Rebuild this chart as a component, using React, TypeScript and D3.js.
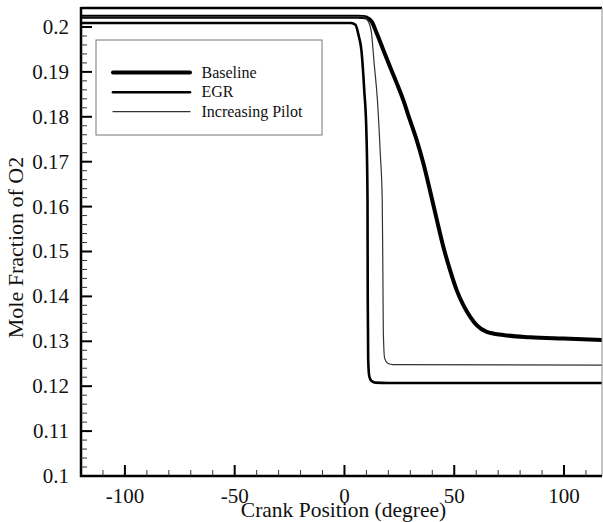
import React from "react";
import * as d3 from "d3";

type Pt = [number, number];

const baselineData: Pt[] = [
  [-120, 0.2023], [6, 0.2023], [8.5, 0.20225], [10.1, 0.2021], [12.4, 0.2012],
  [14.7, 0.1986], [17.7, 0.1949], [20.7, 0.1912], [23.8, 0.1875], [26.8, 0.1837],
  [29.8, 0.1793], [32.9, 0.1748], [35.9, 0.1697], [38.95, 0.1636], [42.0, 0.1572],
  [45.0, 0.1511], [48.06, 0.1459], [51.1, 0.1414], [54.1, 0.1381], [57.2, 0.1355],
  [60.2, 0.1336], [64.8, 0.1321], [72.3, 0.1314], [84.5, 0.1309], [99.7, 0.1306],
  [117.3, 0.1303],
];

const egrData: Pt[] = [
  [-120, 0.2009], [3, 0.2009], [5, 0.2005], [6.5, 0.198], [7.7, 0.1949], [9, 0.186],
  [10, 0.1764], [10.5, 0.1616], [10.6, 0.14], [10.8, 0.126], [11.3, 0.1222],
  [12.2, 0.1212], [14, 0.1208], [20, 0.1207], [117.3, 0.1207],
];

const pilotData: Pt[] = [
  [-120, 0.2023], [8, 0.2023], [10, 0.2018], [11.5, 0.2005], [12.3, 0.1987],
  [13.5, 0.192], [15, 0.1838], [16.3, 0.172], [17.2, 0.1616], [17.5, 0.145],
  [17.7, 0.132], [18.3, 0.1262], [19.7, 0.1251], [22, 0.1248], [117.3, 0.1247],
];

const xMajorTicks = [-100, -50, 0, 50, 100];
const xMinorTicks = d3.range(-110, 117, 10).filter((v) => !xMajorTicks.includes(v));
const yMajorTicks = d3.range(0, 11).map((i) => +(0.1 + i * 0.01).toFixed(2));
const yMinorTicks = d3
  .range(0, 51)
  .map((i) => +(0.1 + i * 0.002).toFixed(3))
  .filter((v) => !yMajorTicks.some((m) => Math.abs(m - v) < 1e-9));
const yTickLabels = ["0.1", "0.11", "0.12", "0.13", "0.14", "0.15", "0.16", "0.17", "0.18", "0.19", "0.2"];

const legendNames = ["Baseline", "EGR", "Increasing Pilot"];

const W = 603;
const H = 522;
const left = 81;
const right = 602;
const top = 8;
const bottom = 476;

const FONT = "'Liberation Serif', 'Times New Roman', Times, serif";

export default function App() {
  const x = d3.scaleLinear().domain([-120, 117.3]).range([left, right]);
  const y = d3.scaleLinear().domain([0.1, 0.20423]).range([bottom, top]);
  const line = d3
    .line<Pt>()
    .x((d) => x(d[0]))
    .y((d) => y(d[1]))
    .curve(d3.curveMonotoneX);

  const series = [
    { name: legendNames[0], data: baselineData, width: 4, color: "#000" },
    { name: legendNames[1], data: egrData, width: 2.6, color: "#000" },
    { name: legendNames[2], data: pilotData, width: 1.2, color: "#333" },
  ];

  const legendY = [72.5, 92.3, 111.7];
  const ts = { fontFamily: FONT };

  return (
    <svg
      width={W}
      height={H}
      style={{ position: "absolute", left: 0, top: 0, background: "#fff", fontFamily: FONT }}
    >
      <rect x={0} y={0} width={W} height={H} fill="#fff" />
      <defs>
        <clipPath id="plotClip">
          <rect x={left} y={top} width={right - left} height={bottom - top} />
        </clipPath>
      </defs>

      <g clipPath="url(#plotClip)">
        {series.map((s) => (
          <path
            key={s.name}
            d={line(s.data) || ""}
            fill="none"
            stroke={s.color}
            strokeWidth={s.width}
            strokeLinejoin="round"
            strokeLinecap="round"
          />
        ))}
      </g>

      <line x1={left} x2={right} y1={top} y2={top} stroke="#000" strokeWidth={2.5} />
      <line x1={right} x2={right} y1={top} y2={bottom} stroke="#888" strokeWidth={1} />
      <line x1={left} x2={left} y1={top - 1} y2={bottom + 1} stroke="#000" strokeWidth={2.5} />
      <line x1={left - 1} x2={right} y1={bottom} y2={bottom} stroke="#000" strokeWidth={2.5} />

      {xMajorTicks.map((t) => (
        <line key={"xM" + t} x1={x(t)} x2={x(t)} y1={bottom} y2={bottom - 11} stroke="#000" strokeWidth={2} />
      ))}
      {xMinorTicks.map((t) => (
        <line key={"xm" + t} x1={x(t)} x2={x(t)} y1={bottom} y2={bottom - 6} stroke="#333" strokeWidth={1} />
      ))}
      {xMajorTicks.map((t) => (
        <text key={"xl" + t} x={x(t)} y={503} textAnchor="middle" fontSize={21} fill="#111" style={ts}>
          {t}
        </text>
      ))}

      {yMajorTicks.map((t) => (
        <line key={"yM" + t} x1={left} x2={left + 11} y1={y(t)} y2={y(t)} stroke="#000" strokeWidth={2} />
      ))}
      {yMinorTicks.map((t) => (
        <line key={"ym" + t} x1={left} x2={left + 6} y1={y(t)} y2={y(t)} stroke="#333" strokeWidth={1} />
      ))}
      {yMajorTicks.map((t, i) => (
        <text key={"yl" + t} x={69} y={y(t) + 7} textAnchor="end" fontSize={21} fill="#111" style={ts}>
          {yTickLabels[i]}
        </text>
      ))}

      <text x={343.5} y={517} textAnchor="middle" fontSize={21.5} fill="#111" style={ts}>
        Crank Position (degree)
      </text>
      <text transform={`translate(23,247.5) rotate(-90)`} textAnchor="middle" fontSize={22} fill="#111" style={ts}>
        Mole Fraction of O2
      </text>

      <rect x={96} y={40} width={226} height={95} fill="#fff" stroke="#777" strokeWidth={1} />
      {series.map((s, i) => (
        <g key={"lg" + s.name}>
          <line x1={113} x2={190} y1={legendY[i]} y2={legendY[i]} stroke={s.color} strokeWidth={s.width} strokeLinecap="round" />
          <text x={201.5} y={legendY[i] + 5} fontSize={16} fill="#111" style={ts}>
            {s.name}
          </text>
        </g>
      ))}
    </svg>
  );
}
